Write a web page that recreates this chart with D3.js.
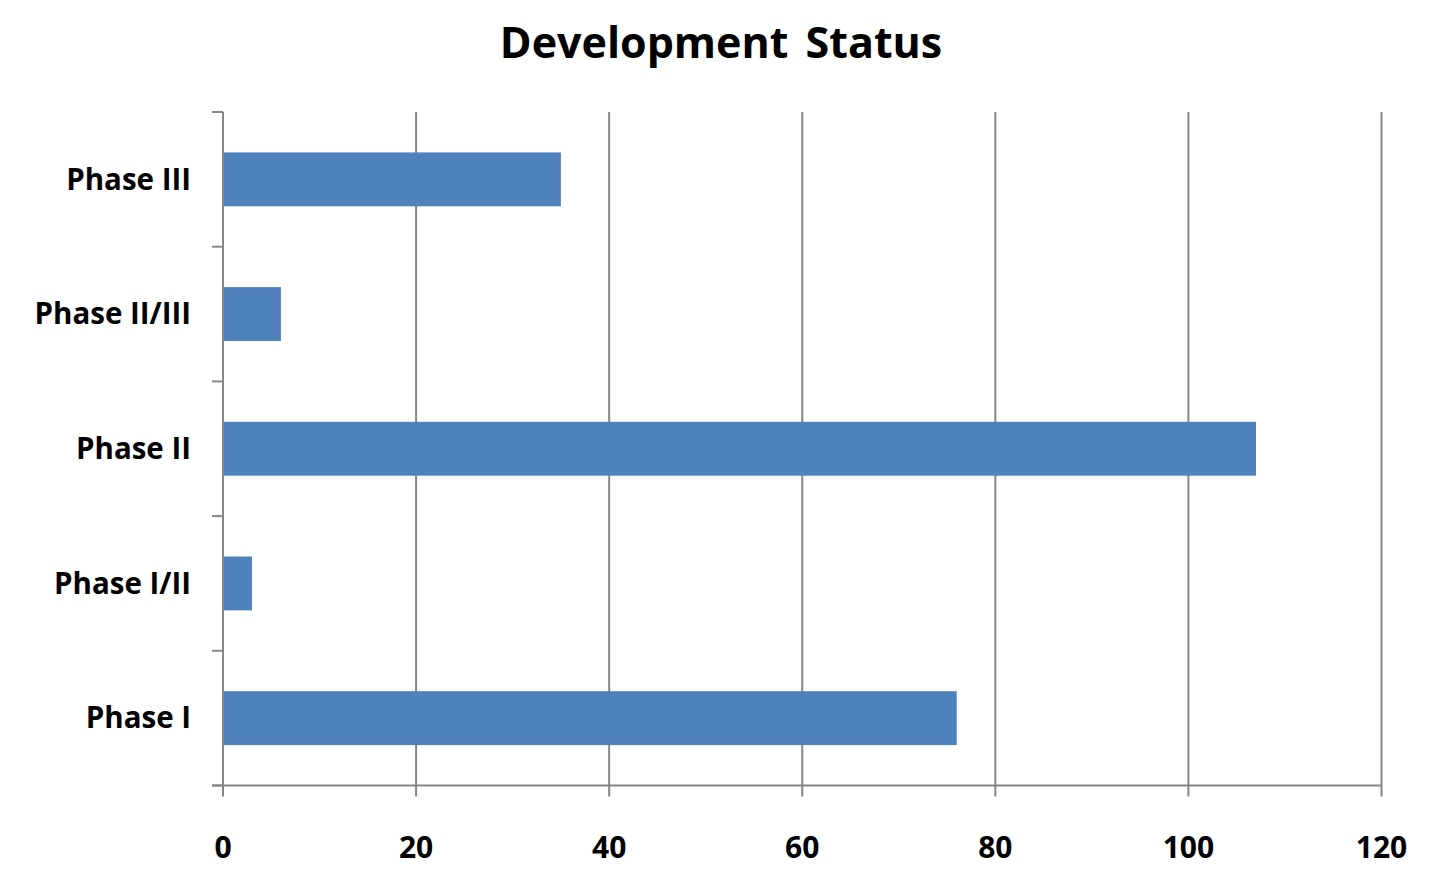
<!DOCTYPE html>
<html><head><meta charset="utf-8">
<script src="https://cdn.jsdelivr.net/npm/d3@7"></script>
<style>body{margin:0;background:#fff}svg{display:block}</style>
</head><body>
<svg id="c" width="1432" height="883"></svg>
<script>
const categories = ["Phase I", "Phase I/II", "Phase II", "Phase II/III", "Phase III"];
const values = [76, 3, 107, 6, 35];
const xTicks = [0, 20, 40, 60, 80, 100, 120];
const title = "Development Status";

(function () {
const svg = d3.select("#c");
const font = "'Open Sans', 'Noto Sans', sans-serif";
const pL = 223, pR = 1381.5, pT = 112, pB = 785.5;
const x = d3.scaleLinear().domain([0, 120]).range([pL, pR]);
const y = d3.scaleBand().domain(categories).range([pB, pT]).paddingInner(0).paddingOuter(0);
const grid = "#868686";

svg.append("text").attr("x", 721).attr("y", 58).attr("text-anchor", "middle")
  .attr("font-family", font).attr("font-weight", "bold").attr("font-size", 43)
  .attr("word-spacing", 6)
  .attr("fill", "#000").text(title);

// gridlines
svg.append("g").selectAll("line").data(xTicks.filter(d => d > 0)).join("line")
  .attr("x1", d => x(d)).attr("x2", d => x(d)).attr("y1", pT).attr("y2", pB + 11)
  .attr("stroke", grid).attr("stroke-width", 2);

// bars
svg.append("g").selectAll("rect").data(categories).join("rect")
  .attr("x", pL).attr("y", d => y(d) + y.bandwidth() * 0.3)
  .attr("width", (d, i) => x(values[i]) - pL).attr("height", y.bandwidth() * 0.4)
  .attr("fill", "#4F81BD");

// y axis
svg.append("line").attr("x1", pL).attr("x2", pL).attr("y1", pT).attr("y2", pB + 11)
  .attr("stroke", grid).attr("stroke-width", 2);
const yb = categories.map(c => y(c)).concat([pB]);
svg.append("g").selectAll("line").data(yb).join("line")
  .attr("x1", pL - 11).attr("x2", pL).attr("y1", d => d).attr("y2", d => d)
  .attr("stroke", grid).attr("stroke-width", 2);
// x axis
svg.append("line").attr("x1", pL - 11).attr("x2", pR).attr("y1", pB).attr("y2", pB)
  .attr("stroke", grid).attr("stroke-width", 2);

svg.append("g").selectAll("text").data(xTicks).join("text")
  .attr("x", d => x(d)).attr("y", 858).attr("text-anchor", "middle")
  .attr("font-family", font).attr("font-weight", "bold").attr("font-size", 30)
  .attr("fill", "#000").text(d => d);

svg.append("g").selectAll("text").data(categories).join("text")
  .attr("x", 191).attr("y", d => y(d) + y.bandwidth() / 2).attr("dy", "0.35em")
  .attr("text-anchor", "end")
  .attr("font-family", font).attr("font-weight", "bold").attr("font-size", 29.5)
  .attr("fill", "#000").text(d => d);
})();
</script>
</body></html>
